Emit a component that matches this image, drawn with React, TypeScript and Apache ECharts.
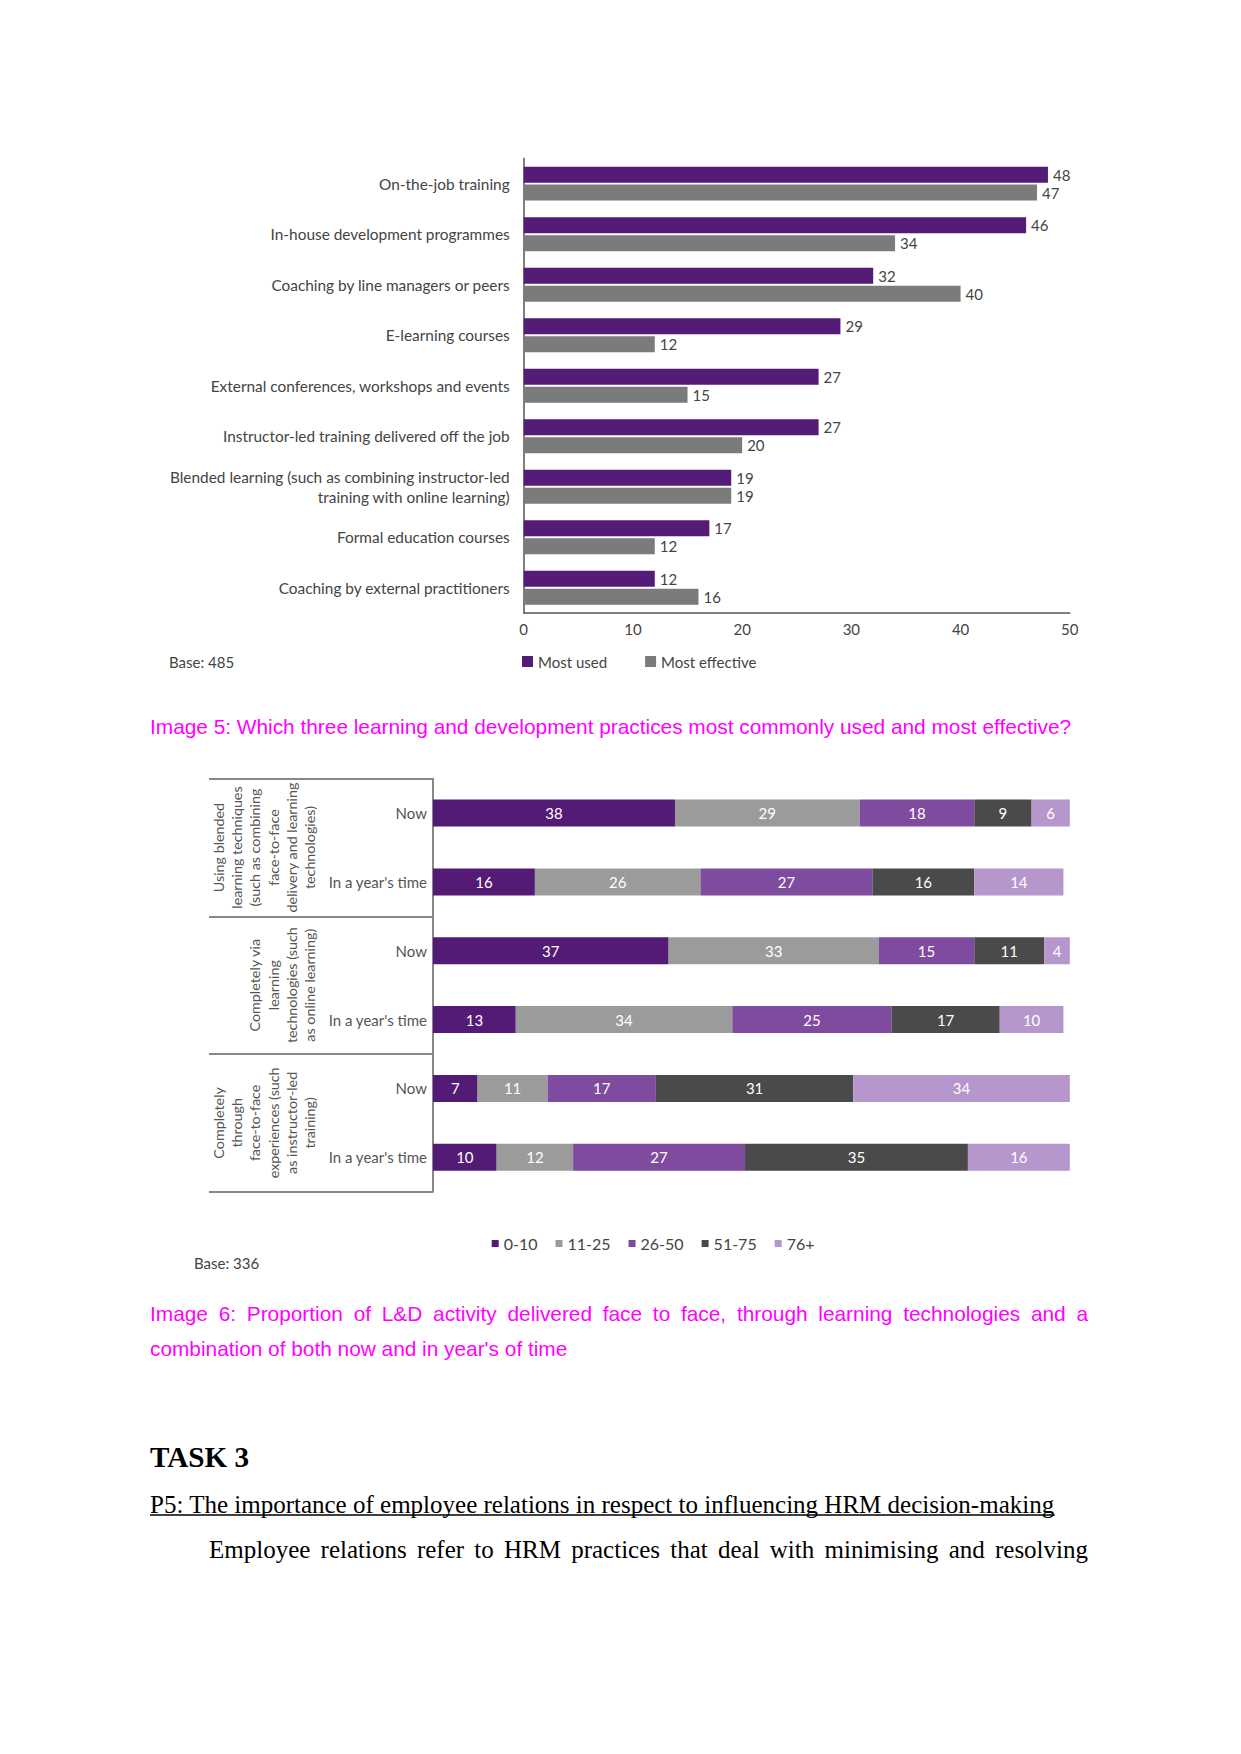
import React, { useEffect, useRef } from 'react';
import * as echarts from 'echarts';

// ---------- Data: chart 1 (Image 5) ----------
const practices = [
  'On-the-job training',
  'In-house development programmes',
  'Coaching by line managers or peers',
  'E-learning courses',
  'External conferences, workshops and events',
  'Instructor-led training delivered off the job',
  'Blended learning (such as combining instructor-led\ntraining with online learning)',
  'Formal education courses',
  'Coaching by external practitioners',
];
const mostUsed = [48, 46, 32, 29, 27, 27, 19, 17, 12];
const mostEffective = [47, 34, 40, 12, 15, 20, 19, 12, 16];
const chart1SeriesNames = ['Most used', 'Most effective'];
const chart1AxisMin = 0;
const chart1AxisMax = 50;
const chart1AxisInterval = 10;

// ---------- Data: chart 2 (Image 6) ----------
const rowKeys = ['g1-now', 'g1-year', 'g2-now', 'g2-year', 'g3-now', 'g3-year'];
const rowNowLabel = 'Now';
const rowYearLabel = "In a year's time";
const groupLabels = [
  'Using blended\nlearning techniques\n(such as combining\nface-to-face\ndelivery and learning\ntechnologies)',
  'Completely via\nlearning\ntechnologies (such\nas online learning)',
  'Completely\nthrough\nface-to-face\nexperiences (such\nas instructor-led\ntraining)',
];
const bandNames = ['0-10', '11-25', '26-50', '51-75', '76+'];
const band0to10 = [38, 16, 37, 13, 7, 10];
const band11to25 = [29, 26, 33, 34, 11, 12];
const band26to50 = [18, 27, 15, 25, 17, 27];
const band51to75 = [9, 16, 11, 17, 31, 35];
const band76plus = [6, 14, 4, 10, 34, 16];
const bandValues = [band0to10, band11to25, band26to50, band51to75, band76plus];

// ---------- Texts ----------
const base1 = 'Base: 485';
const base2 = 'Base: 336';
const caption5 = 'Image 5: Which three learning and development practices most commonly used and most effective?';
const caption6Line1 = 'Image 6: Proportion of L&D activity delivered face to face, through learning technologies and a';
const caption6Line2 = "combination of both now and in year's of time";
const taskTitle = 'TASK 3';
const p5Title = 'P5: The importance of employee relations in respect to influencing HRM decision-making';
const bodyLine = 'Employee relations refer to HRM practices that deal with minimising and resolving';

// ---------- Styles ----------
const PAGE_W = 1241;
const PAGE_H = 1754;
const CHART_FONT = 'Lato, "Open Sans", sans-serif';
const SANS = '"Liberation Sans", Arial, sans-serif';
const SERIF = '"Liberation Serif", "Times New Roman", serif';
const PURPLE = '#541b77';
const GREY1 = '#7b7b7b';
const bandColors = ['#531b76', '#9b9b9b', '#7e4b9e', '#4a4a4a', '#b596cd'];
const MAGENTA = '#ff00ff';

let measureCtx: CanvasRenderingContext2D | null = null;
function measure(text: string, font: string): number {
  if (!measureCtx) measureCtx = document.createElement('canvas').getContext('2d');
  if (!measureCtx) return text.length * 10;
  measureCtx.font = font;
  return measureCtx.measureText(text).width;
}

function txt(text: string, x: number, y: number, size: number, family: string, fill: string, weight = 'normal') {
  return {
    type: 'text',
    x,
    y,
    silent: true,
    style: { text, fontSize: size, fontFamily: family, fontWeight: weight, fill, align: 'left', verticalAlign: 'middle' },
  };
}

function justified(line: string, x0: number, x1: number, y: number, size: number, family: string, fill: string) {
  const font = `normal ${size}px ${family}`;
  const words = line.split(' ');
  const widths = words.map((w) => measure(w, font));
  const total = widths.reduce((a, b) => a + b, 0);
  const gap = (x1 - x0 - total) / (words.length - 1);
  let x = x0;
  return words.map((w, i) => {
    const el = txt(w, x, y, size, family, fill);
    x += widths[i] + gap;
    return el;
  });
}

function buildOption() {
  const capSize = 20.83;
  const bodySize = 25;
  const p5Width = measure(p5Title, `normal ${bodySize}px ${SERIF}`);
  const graphic: any[] = [
    txt(base1, 169, 662, 15, CHART_FONT, '#444'),
    txt(base2, 194, 1263, 15, CHART_FONT, '#444'),
    txt(caption5, 150, 726.3, capSize, SANS, MAGENTA),
    ...justified(caption6Line1, 150, 1088, 1313.7, capSize, SANS, MAGENTA),
    txt(caption6Line2, 150, 1348.4, capSize, SANS, MAGENTA),
    txt(taskTitle, 150, 1457, 29.17, SERIF, '#000', 'bold'),
    txt(p5Title, 150, 1504, bodySize, SERIF, '#000'),
    {
      type: 'line',
      silent: true,
      shape: { x1: 150, y1: 1515, x2: 150 + p5Width, y2: 1515 },
      style: { stroke: '#000', lineWidth: 1.3 },
    },
    ...justified(bodyLine, 209, 1088, 1549, bodySize, SERIF, '#000'),
  ];

  return {
    animation: false,
    backgroundColor: '#ffffff',
    textStyle: { fontFamily: CHART_FONT },
    grid: [
      { left: 523.7, top: 158.4, width: 546.1, height: 454.6 },
      { left: 433, top: 778.7, width: 636.8, height: 413 },
    ],
    legend: [
      {
        data: chart1SeriesNames,
        left: 522,
        top: 654,
        padding: 0,
        itemWidth: 11,
        itemHeight: 11,
        itemGap: 38,
        icon: 'rect',
        selectedMode: false,
        textStyle: { fontSize: 15, color: '#444', fontFamily: CHART_FONT },
      },
      {
        data: bandNames,
        left: 491.7,
        top: 1235.5,
        padding: 0,
        itemWidth: 7,
        itemHeight: 7,
        itemGap: 18,
        icon: 'rect',
        selectedMode: false,
        textStyle: { fontSize: 16, color: '#444', fontFamily: CHART_FONT },
      },
    ],
    xAxis: [
      {
        type: 'value',
        gridIndex: 0,
        min: chart1AxisMin,
        max: chart1AxisMax,
        interval: chart1AxisInterval,
        axisLine: { show: true, lineStyle: { color: '#555', width: 1.5 } },
        axisTick: { show: false },
        splitLine: { show: false },
        axisLabel: { color: '#444', fontSize: 15, margin: 8, fontFamily: CHART_FONT },
      },
      { type: 'value', gridIndex: 1, min: 0, max: 100, show: false },
    ],
    yAxis: [
      {
        type: 'category',
        gridIndex: 0,
        inverse: true,
        data: practices,
        axisLine: { show: true, lineStyle: { color: '#555', width: 1.5 } },
        axisTick: { show: false },
        axisLabel: { interval: 0, color: '#444', fontSize: 15.4, lineHeight: 20, margin: 14, fontFamily: CHART_FONT },
      },
      {
        type: 'category',
        gridIndex: 1,
        inverse: true,
        position: 'left',
        data: rowKeys,
        axisLine: { show: true, lineStyle: { color: '#888', width: 2 } },
        axisTick: { show: false },
        axisLabel: {
          interval: 0,
          color: '#555',
          fontSize: 15,
          margin: 6,
          fontFamily: CHART_FONT,
          formatter: (v: string) => (v.endsWith('now') ? rowNowLabel : rowYearLabel),
        },
      },
      {
        type: 'category',
        gridIndex: 1,
        inverse: true,
        position: 'left',
        data: groupLabels,
        axisLine: { show: false },
        axisTick: { show: true, length: 224, lineStyle: { color: '#888', width: 2 } },
        axisLabel: {
          interval: 0,
          rotate: 90,
          color: '#555',
          fontSize: 14.3,
          lineHeight: 18.2,
          margin: 114.5,
          fontFamily: CHART_FONT,
        },
      },
    ],
    series: [
      {
        name: chart1SeriesNames[0],
        type: 'bar',
        xAxisIndex: 0,
        yAxisIndex: 0,
        data: mostUsed,
        barWidth: 16,
        barGap: '12%',
        itemStyle: { color: PURPLE },
        label: { show: true, position: 'right', distance: 5, color: '#444', fontSize: 15, fontFamily: CHART_FONT },
      },
      {
        name: chart1SeriesNames[1],
        type: 'bar',
        xAxisIndex: 0,
        yAxisIndex: 0,
        data: mostEffective,
        barWidth: 16,
        barGap: '12%',
        itemStyle: { color: GREY1 },
        label: { show: true, position: 'right', distance: 5, color: '#444', fontSize: 15, fontFamily: CHART_FONT },
      },
      ...bandNames.map((name, i) => ({
        name,
        type: 'bar',
        stack: 'share',
        xAxisIndex: 1,
        yAxisIndex: 1,
        data: bandValues[i],
        barWidth: 27,
        itemStyle: { color: bandColors[i] },
        label: { show: true, position: 'inside', color: '#fff', fontSize: 15, fontFamily: CHART_FONT },
      })),
    ],
    graphic,
  };
}

export default function App() {
  const ref = useRef<HTMLDivElement>(null);
  useEffect(() => {
    if (!ref.current) return;
    const chart = echarts.init(ref.current, undefined, { renderer: 'svg', width: PAGE_W, height: PAGE_H });
    chart.setOption(buildOption() as any);
    return () => chart.dispose();
  }, []);
  return (
    <div
      ref={ref}
      style={{ position: 'absolute', left: 0, top: 0, width: PAGE_W, height: PAGE_H, background: '#fff' }}
    />
  );
}
